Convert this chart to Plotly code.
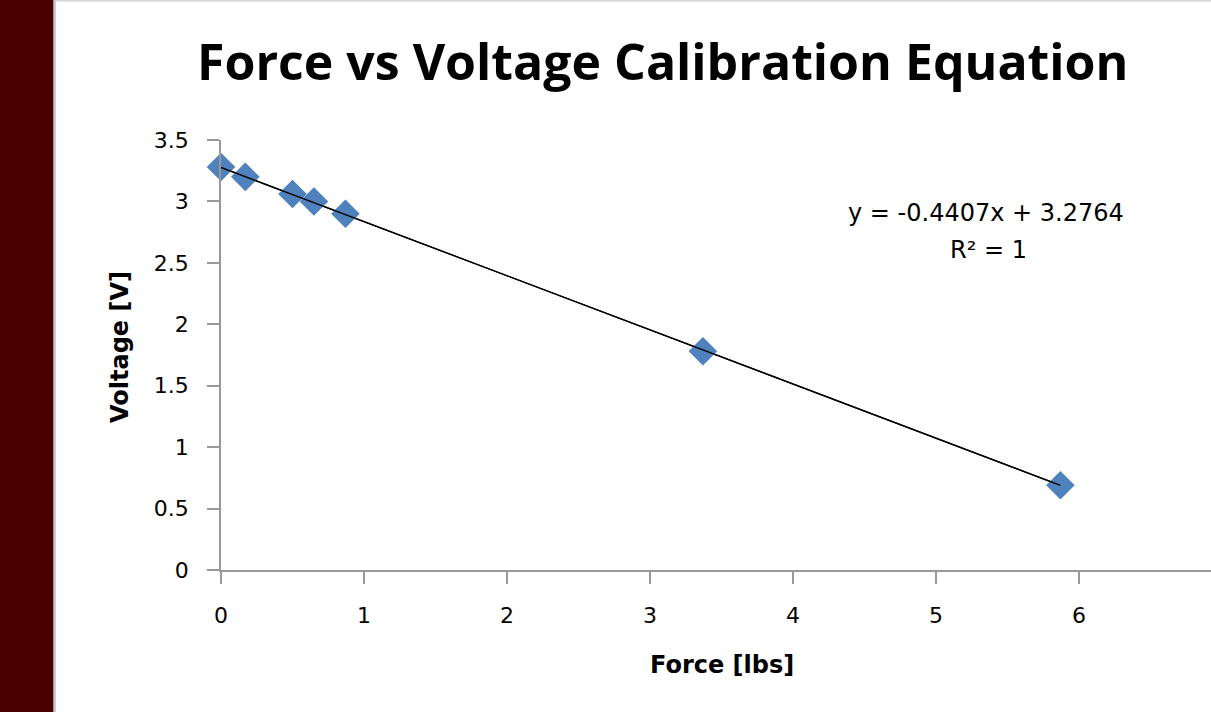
import plotly.graph_objects as go

# Data
force_lbs = [0.0, 0.17, 0.50, 0.65, 0.87, 3.37, 5.87]
voltage_v = [3.28, 3.20, 3.06, 3.00, 2.90, 1.78, 0.69]

# Trendline coefficients shown on the chart
slope = -0.4407
intercept = 3.2764
r_squared = 1

x_ticks = [0, 1, 2, 3, 4, 5, 6]
y_ticks = [0, 0.5, 1, 1.5, 2, 2.5, 3, 3.5]

W, H = 1211, 712
L, R, T, B = 221, 0, 140, 142
PW, PH = W - L - R, H - T - B


def px(x):
    return (x - L) / PW


def py(y):
    return (H - B - y) / PH


TITLE_FONT = "Open Sans, Lato, sans-serif"
FONT = "DejaVu Sans, sans-serif"

fig = go.Figure()

trend_x = [min(force_lbs), max(force_lbs)]
trend_y = [slope * v + intercept for v in trend_x]

fig.add_trace(go.Scatter(
    x=trend_x, y=trend_y, mode="lines",
    line=dict(color="#000000", width=1.3),
    showlegend=False, hoverinfo="skip", cliponaxis=False))

fig.add_trace(go.Scatter(
    x=force_lbs, y=voltage_v, mode="markers",
    marker=dict(symbol="diamond", size=22, color="#4F81BD",
                line=dict(width=0)),
    showlegend=False, hoverinfo="x+y", cliponaxis=False))

# redraw the trendline above the markers, as in the reference
fig.add_trace(go.Scatter(
    x=trend_x, y=trend_y, mode="lines",
    line=dict(color="#000000", width=1.3),
    showlegend=False, hoverinfo="skip", cliponaxis=False))

axis_common = dict(
    showgrid=False, zeroline=False, showline=True,
    linecolor="#999999", linewidth=1.5,
    ticks="outside", ticklen=12, tickwidth=1.5, tickcolor="#999999",
    tickfont=dict(family=FONT, size=22, color="#000000"),
)

fig.update_layout(
    width=W, height=H,
    margin=dict(l=L, r=R, t=T, b=B, pad=0),
    paper_bgcolor="#ffffff", plot_bgcolor="#ffffff",
    xaxis=dict(range=[0, (W - L) / 143.0], tickvals=x_ticks,
               ticktext=[str(v) for v in x_ticks],
               ticklabelstandoff=13, **axis_common),
    yaxis=dict(range=[0, 3.5], tickvals=y_ticks,
               ticktext=[("%g" % v) for v in y_ticks],
               ticklabelstandoff=14, **axis_common),
    shapes=[
        dict(type="rect", xref="paper", yref="paper",
             x0=px(0), x1=px(53), y0=py(H), y1=py(0),
             fillcolor="#4B0000", line=dict(width=0), layer="below"),
        dict(type="rect", xref="paper", yref="paper",
             x0=px(53), x1=px(54.5), y0=py(H), y1=py(0),
             fillcolor="#9a9a9a", line=dict(width=0), layer="below"),
        dict(type="rect", xref="paper", yref="paper",
             x0=px(54.5), x1=px(56), y0=py(H), y1=py(0),
             fillcolor="#cccccc", line=dict(width=0), layer="below"),
        dict(type="rect", xref="paper", yref="paper",
             x0=px(56), x1=px(W), y0=py(1.5), y1=py(0),
             fillcolor="#d4d4d4", line=dict(width=0), layer="below"),
    ],
    annotations=[
        dict(text="<b>Force vs Voltage Calibration Equation</b>",
             xref="paper", yref="paper", x=px(662), y=py(61),
             xanchor="center", yanchor="middle", showarrow=False,
             font=dict(family=TITLE_FONT, size=50, color="#000000")),
        dict(text="<b>Force [lbs]</b>",
             xref="paper", yref="paper", x=px(722), y=py(665),
             xanchor="center", yanchor="middle", showarrow=False,
             font=dict(family=FONT, size=24, color="#000000")),
        dict(text="<b>Voltage [V]</b>", textangle=-90,
             xref="paper", yref="paper", x=px(120), y=py(347),
             xanchor="center", yanchor="middle", showarrow=False,
             font=dict(family=FONT, size=24, color="#000000")),
        dict(text="y = %.4fx + %.4f" % (slope, intercept),
             xref="paper", yref="paper", x=px(986), y=py(213),
             xanchor="center", yanchor="middle", showarrow=False,
             font=dict(family=FONT, size=24, color="#000000")),
        dict(text="R² = %g" % r_squared,
             xref="paper", yref="paper", x=px(988), y=py(250),
             xanchor="center", yanchor="middle", showarrow=False,
             font=dict(family=FONT, size=24, color="#000000")),
    ],
)

fig.write_html(
    "out.html",
    config={"displayModeBar": False},
    post_script="document.body.style.margin='0';"
                "document.body.style.overflow='hidden';",
)
